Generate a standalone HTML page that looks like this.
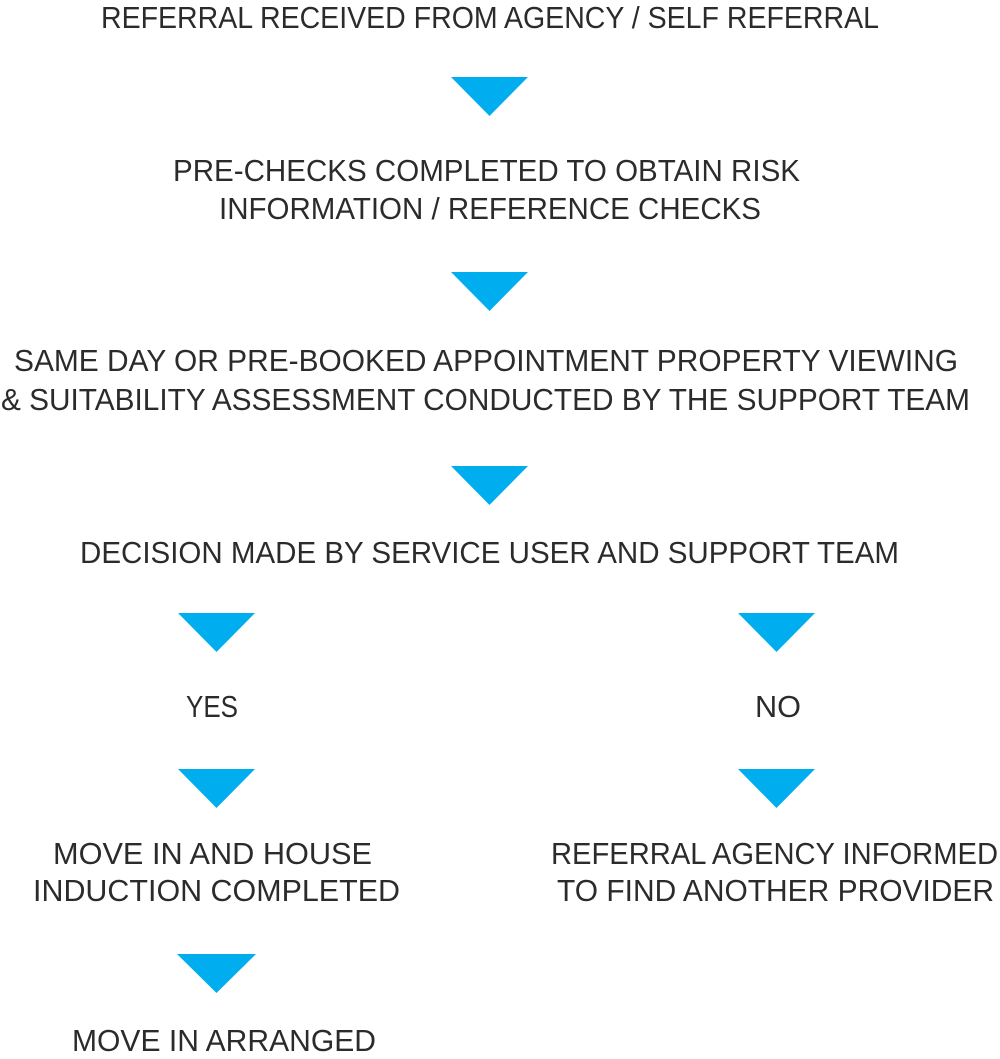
<!DOCTYPE html>
<html><head><meta charset="utf-8"><style>
html,body{margin:0;padding:0;background:#fff;}
svg{display:block}
text{font-family:"Liberation Sans",sans-serif;font-size:31px;fill:#2b2b2b;}
polygon{fill:#00aeef}
</style></head><body>
<svg width="1000" height="1059" viewBox="0 0 1000 1059">
<text x="101" y="28" textLength="778" lengthAdjust="spacingAndGlyphs">REFERRAL RECEIVED FROM AGENCY / SELF REFERRAL</text>
<polygon points="451,77 528,77 489.5,116"/>
<text x="173" y="181" textLength="627" lengthAdjust="spacingAndGlyphs">PRE-CHECKS COMPLETED TO OBTAIN RISK</text>
<text x="219" y="219" textLength="542" lengthAdjust="spacingAndGlyphs">INFORMATION / REFERENCE CHECKS</text>
<polygon points="451,272 528,272 489.5,311"/>
<text x="14" y="371" textLength="944" lengthAdjust="spacingAndGlyphs">SAME DAY OR PRE-BOOKED APPOINTMENT PROPERTY VIEWING</text>
<text x="1" y="410" textLength="969" lengthAdjust="spacingAndGlyphs">&amp; SUITABILITY ASSESSMENT CONDUCTED BY THE SUPPORT TEAM</text>
<polygon points="451,466 528,466 489.5,505"/>
<text x="80" y="563" textLength="819" lengthAdjust="spacingAndGlyphs">DECISION MADE BY SERVICE USER AND SUPPORT TEAM</text>
<polygon points="178,613 255,613 216.5,652"/>
<polygon points="738,613 815,613 776.5,652"/>
<text x="186" y="717" textLength="52" lengthAdjust="spacingAndGlyphs">YES</text>
<text x="755" y="717" textLength="46" lengthAdjust="spacingAndGlyphs">NO</text>
<polygon points="178,769 255,769 216.5,808"/>
<polygon points="738,769 815,769 776.5,808"/>
<text x="53" y="864" textLength="319" lengthAdjust="spacingAndGlyphs">MOVE IN AND HOUSE</text>
<text x="33" y="901" textLength="367" lengthAdjust="spacingAndGlyphs">INDUCTION COMPLETED</text>
<text x="551" y="864" textLength="447" lengthAdjust="spacingAndGlyphs">REFERRAL AGENCY INFORMED</text>
<text x="557" y="901" textLength="437" lengthAdjust="spacingAndGlyphs">TO FIND ANOTHER PROVIDER</text>
<polygon points="177,954 256,954 216.5,993"/>
<text x="72" y="1051" textLength="304" lengthAdjust="spacingAndGlyphs">MOVE IN ARRANGED</text>
</svg>
</body></html>
